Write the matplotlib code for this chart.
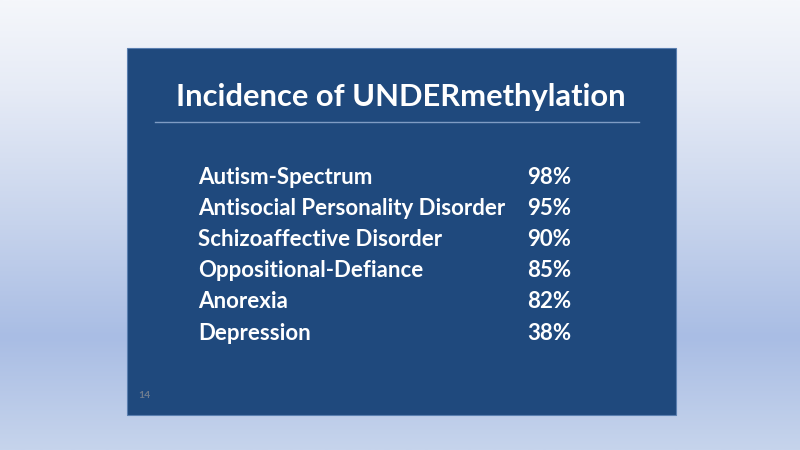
import numpy as np
import matplotlib
matplotlib.use("Agg")
import matplotlib.pyplot as plt
from matplotlib.patches import Rectangle
from matplotlib.colors import LinearSegmentedColormap

title = "Incidence of UNDERmethylation"
categories = ["Autism-Spectrum", "Antisocial Personality Disorder",
              "Schizoaffective Disorder", "Oppositional-Defiance",
              "Anorexia", "Depression"]
values = [98, 95, 90, 85, 82, 38]
page_number = "14"

FONT = "Lato"

fig = plt.figure(figsize=(8, 4.5), dpi=100)
ax = fig.add_axes([0, 0, 1, 1])
ax.set_xlim(0, 800)
ax.set_ylim(450, 0)
ax.axis("off")

# background gradient
bg = LinearSegmentedColormap.from_list(
    "bg", [(0.0, "#f5f7fb"), (0.2, "#e6ebf6"), (0.5, "#c6d3ec"),
           (0.75, "#a9bde4"), (1.0, "#c6d4ec")])
grad = np.linspace(0, 1, 256).reshape(-1, 1)
ax.imshow(grad, cmap=bg, extent=[0, 800, 450, 0], aspect="auto", zorder=0)

# slide panel
ax.add_patch(Rectangle((127, 48), 549, 367, facecolor="#1f497d",
                       edgecolor="#5a7fb0", lw=0.8, zorder=1))
ax.plot([155, 639], [122, 122], color="#7f9cc4", lw=1.0, zorder=2)

ax.text(401, 97, title, color="white", fontsize=22.2, fontweight="bold",
        family=FONT, ha="center", va="center", zorder=3)

y0, dy = 177, 31.2
for i, (c, v) in enumerate(zip(categories, values)):
    y = y0 + i * dy
    ax.text(198, y, c, color="white", fontsize=16, fontweight="bold",
            family=FONT, ha="left", va="center", zorder=3)
    ax.text(527, y, f"{v}%", color="white", fontsize=16, fontweight="bold",
            family=FONT, ha="left", va="center", zorder=3)

ax.text(138, 395, page_number, color="#6e7c8e", fontsize=7.5,
        fontweight="bold", family=FONT, ha="left", va="center", zorder=3)

fig.savefig("out.png", dpi=100)
